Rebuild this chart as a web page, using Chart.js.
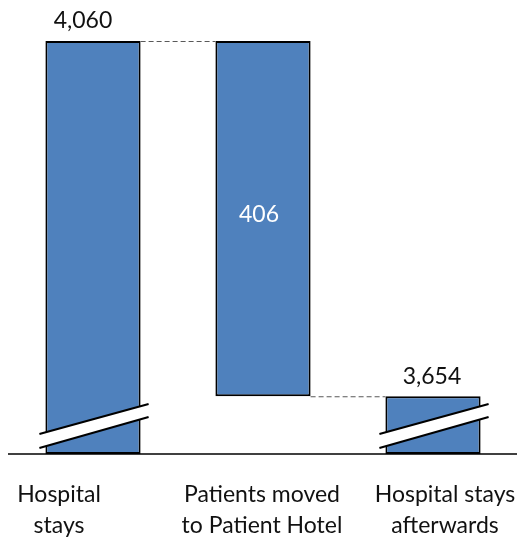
<!DOCTYPE html>
<html>
<head>
<meta charset="utf-8">
<script src="https://cdn.jsdelivr.net/npm/chart.js@4"></script>
<style>
  html, body { margin: 0; padding: 0; background: #ffffff; }
  #wrap { width: 518px; height: 537px; position: relative; }
</style>
</head>
<body>
<div id="wrap"><canvas id="chart"></canvas></div>
<script>
// Categories (each label split into its two printed lines)
const categories = [
  ['Hospital', 'stays'],
  ['Patients moved', 'to Patient Hotel'],
  ['Hospital stays', 'afterwards']
];
// Waterfall values: starting total, amount moved, remaining total
const startTotal = [4060];
const movedOut = [406];
const endTotal = [3654];
// Value labels printed on the bars
const valueLabels = ['4,060', '406', '3,654'];

// Broken axis: the value axis starts at this floor rather than zero
const axisFloor = 3588;

// Floating bar ranges built from the series above
const ranges = [
  [axisFloor, startTotal[0]],
  [startTotal[0] - movedOut[0], startTotal[0]],
  [axisFloor, endTotal[0]]
];

const FONT = 'Lato, "Open Sans", "DejaVu Sans", sans-serif';

const waterfallDecor = {
  id: 'waterfallDecor',
  afterDatasetsDraw(chart) {
    const ctx = chart.ctx;
    const area = chart.chartArea;
    const bars = chart.getDatasetMeta(0).data;
    const yScale = chart.scales.y;
    const base = yScale.getPixelForValue(axisFloor);

    ctx.save();
    // baseline
    ctx.strokeStyle = '#000000';
    ctx.lineWidth = 1.5;
    ctx.beginPath();
    ctx.moveTo(area.left, base);
    ctx.lineTo(area.right - 1, base);
    ctx.stroke();

    // dashed connectors between bars
    ctx.strokeStyle = '#595959';
    ctx.lineWidth = 1;
    ctx.setLineDash([5, 3]);
    const yTop = yScale.getPixelForValue(startTotal[0]);
    const yEnd = yScale.getPixelForValue(endTotal[0]);
    ctx.beginPath();
    ctx.moveTo(bars[0].x + bars[0].width / 2, yTop + 0.5);
    ctx.lineTo(bars[1].x - bars[1].width / 2, yTop + 0.5);
    ctx.moveTo(bars[1].x + bars[1].width / 2, yEnd + 0.5);
    ctx.lineTo(bars[2].x - bars[2].width / 2, yEnd + 0.5);
    ctx.stroke();
    ctx.setLineDash([]);

    // axis break marks on the bars that start from the floor
    [0, 2].forEach(i => {
      const b = bars[i];
      const l = b.x - b.width / 2 - 6;
      const r = b.x + b.width / 2 + 8;
      ctx.fillStyle = '#ffffff';
      ctx.beginPath();
      ctx.moveTo(l, base - 20);
      ctx.lineTo(r, base - 50);
      ctx.lineTo(r, base - 37);
      ctx.lineTo(l, base - 6);
      ctx.closePath();
      ctx.fill();
      ctx.strokeStyle = '#000000';
      ctx.lineWidth = 2;
      ctx.beginPath();
      ctx.moveTo(l, base - 20);
      ctx.lineTo(r, base - 50);
      ctx.moveTo(l, base - 6);
      ctx.lineTo(r, base - 37);
      ctx.stroke();
    });

    // value labels
    ctx.font = '23px ' + FONT;
    ctx.textAlign = 'center';
    ctx.textBaseline = 'alphabetic';
    ctx.fillStyle = '#111111';
    ctx.fillText(valueLabels[0], bars[0].x - 10, yTop - 13);
    ctx.fillStyle = '#ffffff';
    const yMid = yScale.getPixelForValue(startTotal[0] - movedOut[0] / 2);
    ctx.fillText(valueLabels[1], bars[1].x - 4, yMid + 3);
    ctx.fillStyle = '#111111';
    ctx.fillText(valueLabels[2], bars[2].x - 1, yEnd - 12);

    // category labels
    const shifts = [-34, -1, 12];
    categories.forEach((lines, i) => {
      lines.forEach((t, j) => {
        ctx.fillText(t, bars[i].x + shifts[i], base + 48 + j * 31);
      });
    });
    ctx.restore();
  }
};

new Chart(document.getElementById('chart'), {
  type: 'bar',
  data: {
    labels: categories,
    datasets: [{
      data: ranges,
      backgroundColor: '#4f81bd',
      borderColor: '#000000',
      borderWidth: 2,
      borderSkipped: false,
      barPercentage: 0.56,
      categoryPercentage: 1
    }]
  },
  options: {
    responsive: true,
    maintainAspectRatio: false,
    animation: false,
    layout: { padding: { top: 41, bottom: 83, left: 8, right: 0 } },
    plugins: { legend: { display: false }, tooltip: { enabled: false } },
    scales: {
      x: { display: false },
      y: { display: false, min: axisFloor, max: startTotal[0] }
    }
  },
  plugins: [waterfallDecor]
});
</script>
</body>
</html>
